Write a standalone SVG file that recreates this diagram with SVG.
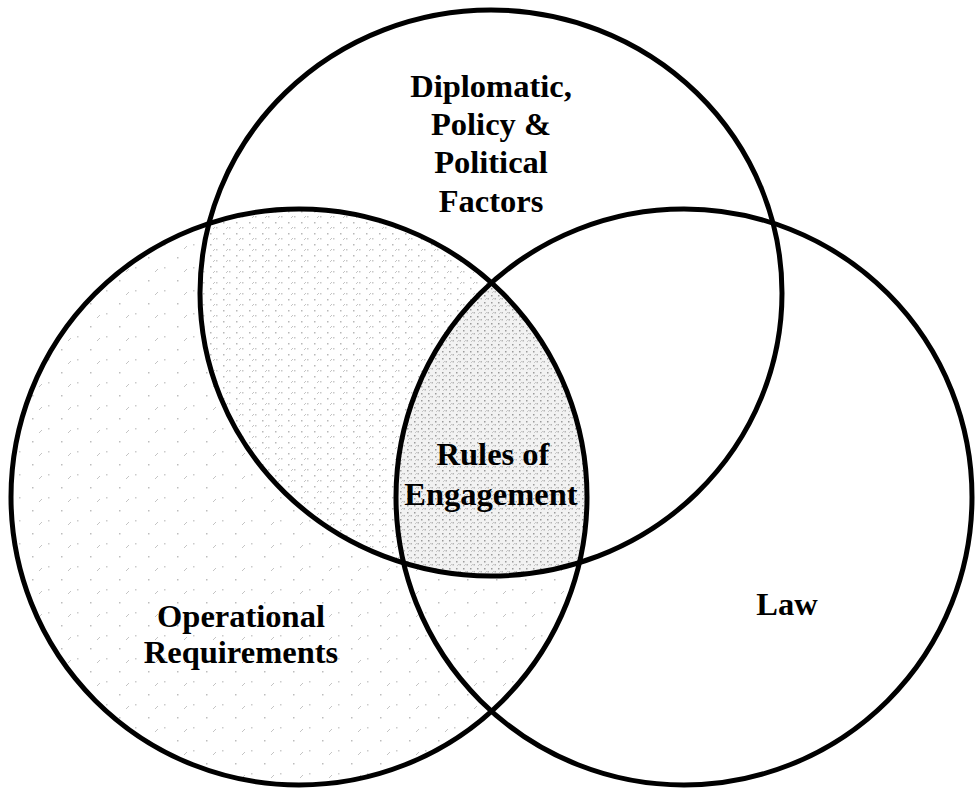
<svg xmlns="http://www.w3.org/2000/svg" width="975" height="788" viewBox="0 0 975 788">
<style>
  .ring { fill: none; stroke: #000; stroke-width: 5; }
  .lbl { font-family: "Liberation Serif", "Times New Roman", serif; font-weight: bold; font-size: 32.5px; fill: #000; text-anchor: middle; }
</style>
<defs>
  <pattern id="speckLight" width="29" height="23" patternUnits="userSpaceOnUse">
    <rect x="3" y="4" width="1.5" height="1.5" fill="#bdbdbd"/>
    <rect x="19" y="14" width="1.5" height="1.5" fill="#cccccc"/>
    <path d="M10 19 l3 -3" stroke="#c4c4c4" stroke-width="1"/>
  </pattern>
  <pattern id="speckMed" width="13" height="11" patternUnits="userSpaceOnUse">
    <rect x="2" y="2" width="1.5" height="1.5" fill="#b8b8b8"/>
    <rect x="8" y="7" width="1.5" height="1.5" fill="#c8c8c8"/>
    <path d="M5 9 l2 -2" stroke="#c4c4c4" stroke-width="1"/>
  </pattern>
  <pattern id="speckDense" width="7" height="7" patternUnits="userSpaceOnUse">
    <rect x="1" y="1" width="1.5" height="1.5" fill="#9a9a9a"/>
    <rect x="4.5" y="4" width="1.5" height="1.5" fill="#b4b4b4"/>
    <path d="M2 6 l2 -2" stroke="#bcbcbc" stroke-width="0.8"/>
  </pattern>
  <clipPath id="clipLeft"><circle cx="299" cy="497" r="288"/></clipPath>
  <clipPath id="clipTop"><ellipse cx="491" cy="293" rx="291" ry="283"/></clipPath>
  <clipPath id="clipRight"><circle cx="684" cy="497" r="288"/></clipPath>
</defs>
<rect width="975" height="788" fill="#fff"/>

<g id="shading">
  <circle cx="299" cy="497" r="288" fill="url(#speckLight)"/>
  <g clip-path="url(#clipLeft)">
    <g clip-path="url(#clipTop)">
      <rect width="975" height="788" fill="#fff"/>
      <rect width="975" height="788" fill="url(#speckMed)"/>
      <g clip-path="url(#clipRight)">
        <rect width="975" height="788" fill="#fff"/>
        <rect width="975" height="788" fill="#e6e6e6" opacity="0.5"/>
        <rect width="975" height="788" fill="url(#speckDense)"/>
      </g>
    </g>
  </g>
</g>

<g id="node-top">
  <ellipse class="ring" cx="491" cy="293" rx="291" ry="283"/>
  <text class="lbl" x="491" y="97">Diplomatic,</text>
  <text class="lbl" x="491" y="135">Policy &amp;</text>
  <text class="lbl" x="491" y="173">Political</text>
  <text class="lbl" x="491" y="212">Factors</text>
</g>
<g id="node-left">
  <circle class="ring" cx="299" cy="497" r="288"/>
  <text class="lbl" x="241" y="627">Operational</text>
  <text class="lbl" x="241" y="663">Requirements</text>
</g>
<g id="node-right">
  <circle class="ring" cx="684" cy="497" r="288"/>
  <text class="lbl" x="787" y="615">Law</text>
</g>
<g id="node-center">
  <text class="lbl" x="493" y="465">Rules of</text>
  <text class="lbl" x="491" y="505">Engagement</text>
</g>
<g id="connectors"></g>
</svg>
